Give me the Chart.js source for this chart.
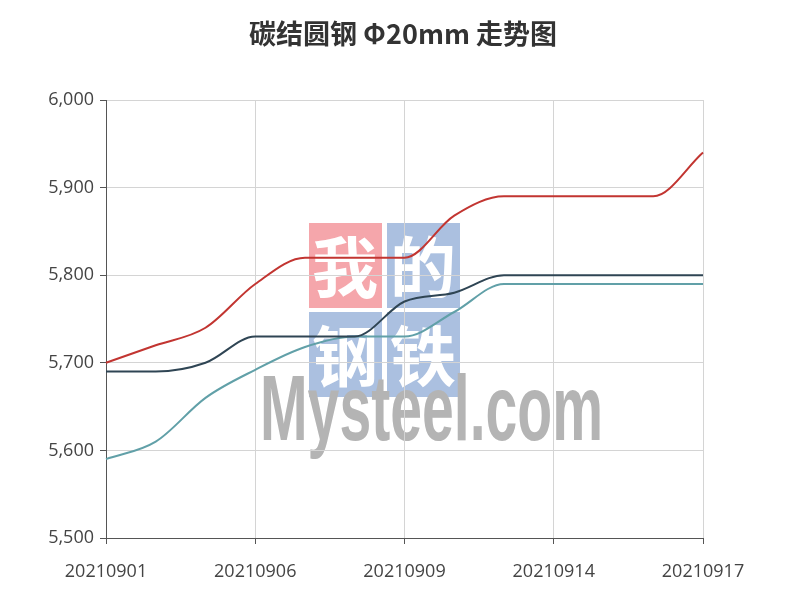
<!DOCTYPE html>
<html>
<head>
<meta charset="utf-8">
<script src="https://cdn.jsdelivr.net/npm/chart.js@4"></script>
<style>
  body { margin: 0; background: #fff; }
  #wrap { width: 800px; height: 600px; }
</style>
</head>
<body>
<div id="wrap"><canvas id="chart" width="800" height="600"></canvas></div>
<script>
// dates on the x axis (trading days), only every 3rd gets a label
const dates = [
  "20210901", "20210902", "20210903", "20210906", "20210907", "20210908", "20210909",
  "20210910", "20210913", "20210914", "20210915", "20210916", "20210917"
];
// price series
const redSeries = [5700, 5720, 5740, 5790, 5820, 5820, 5820, 5868, 5890, 5890, 5890, 5890, 5940];
const darkSeries = [5690, 5690, 5700, 5730, 5730, 5730, 5770, 5780, 5800, 5800, 5800, 5800, 5800];
const tealSeries = [5590, 5610, 5660, 5692, 5718, 5730, 5730, 5758, 5790, 5790, 5790, 5790, 5790];
const yMin = 5500;
const yMax = 6000;
const yStep = 100;

const titleText = "碳结圆钢 Φ20mm 走势图";
const labelEvery = 3;

// mysteel watermark behind the grid and lines, title on top of the canvas
const decor = {
  id: "decor",
  beforeDraw(chart) {
    const ctx = chart.ctx;
    ctx.save();
    const boxes = [
      { x: 309, y: 223, c: "#f5a6ab", t: "我" },
      { x: 387, y: 223, c: "#abc0e0", t: "的" },
      { x: 309, y: 312, c: "#abc0e0", t: "钢" },
      { x: 387, y: 312, c: "#abc0e0", t: "铁" },
    ];
    boxes.forEach((b) => {
      ctx.fillStyle = b.c;
      ctx.fillRect(b.x, b.y, 73, 85);
      ctx.fillStyle = "#fff";
      ctx.font = "bold 66px 'Noto Sans CJK SC'";
      ctx.textAlign = "center";
      ctx.textBaseline = "middle";
      ctx.fillText(b.t, b.x + 36, b.y + 44);
    });
    ctx.font = "bold 92px 'Liberation Sans'";
    ctx.textAlign = "left";
    ctx.textBaseline = "alphabetic";
    ctx.fillStyle = "#b4b4b4";
    const w = ctx.measureText("Mysteel.com").width;
    ctx.translate(260, 440);
    ctx.scale(343 / w, 1);
    ctx.fillText("Mysteel.com", 0, 0);
    ctx.restore();
  },
  afterDraw(chart) {
    const ctx = chart.ctx;
    ctx.save();
    ctx.font = "bold 27px 'Noto Sans CJK SC', sans-serif";
    ctx.fillStyle = "#333";
    ctx.textAlign = "center";
    ctx.textBaseline = "middle";
    ctx.fillText(titleText, 403, 34);
    ctx.restore();
  },
};

function makeSet(label, data, color) {
  return {
    label,
    data,
    borderColor: color,
    backgroundColor: color,
    borderWidth: 2,
    pointRadius: 0,
    fill: false,
    cubicInterpolationMode: "monotone",
  };
}

const tickFont = { family: "'Open Sans', 'Noto Sans', sans-serif", size: 18 };

new Chart(document.getElementById("chart").getContext("2d"), {
  type: "line",
  data: {
    labels: dates,
    datasets: [
      makeSet("red", redSeries, "#c23531"),
      makeSet("dark", darkSeries, "#2f4554"),
      makeSet("teal", tealSeries, "#61a0a8"),
    ],
  },
  options: {
    responsive: false,
    animation: false,
    layout: { padding: { left: 0, right: 97, top: 100, bottom: 0 } },
    plugins: {
      legend: { display: false },
      tooltip: { enabled: false },
      title: { display: false },
    },
    scales: {
      x: {
        offset: false,
        afterFit: (scale) => { scale.height = 62; },
        border: { color: "#555", width: 1 },
        grid: {
          tickLength: 6,
          color: (c) => (c.index % labelEvery === 0 ? "#d4d4d4" : "rgba(0,0,0,0)"),
          tickColor: (c) => (c.index % labelEvery === 0 ? "#555" : "rgba(0,0,0,0)"),
        },
        ticks: {
          autoSkip: false,
          maxRotation: 0,
          padding: 17,
          color: "#444",
          font: tickFont,
          callback: function (v, i) {
            return i % labelEvery === 0 ? this.getLabelForValue(v) : "";
          },
        },
      },
      y: {
        min: yMin,
        max: yMax,
        afterFit: (scale) => { scale.width = 106; },
        border: { color: "#555", width: 1 },
        grid: { tickLength: 6, color: "#d4d4d4", tickColor: "#555" },
        ticks: {
          stepSize: yStep,
          padding: 6,
          color: "#444",
          font: tickFont,
          callback: (v) => v.toLocaleString("en-US"),
        },
      },
    },
  },
  plugins: [decor],
});
</script>
</body>
</html>
